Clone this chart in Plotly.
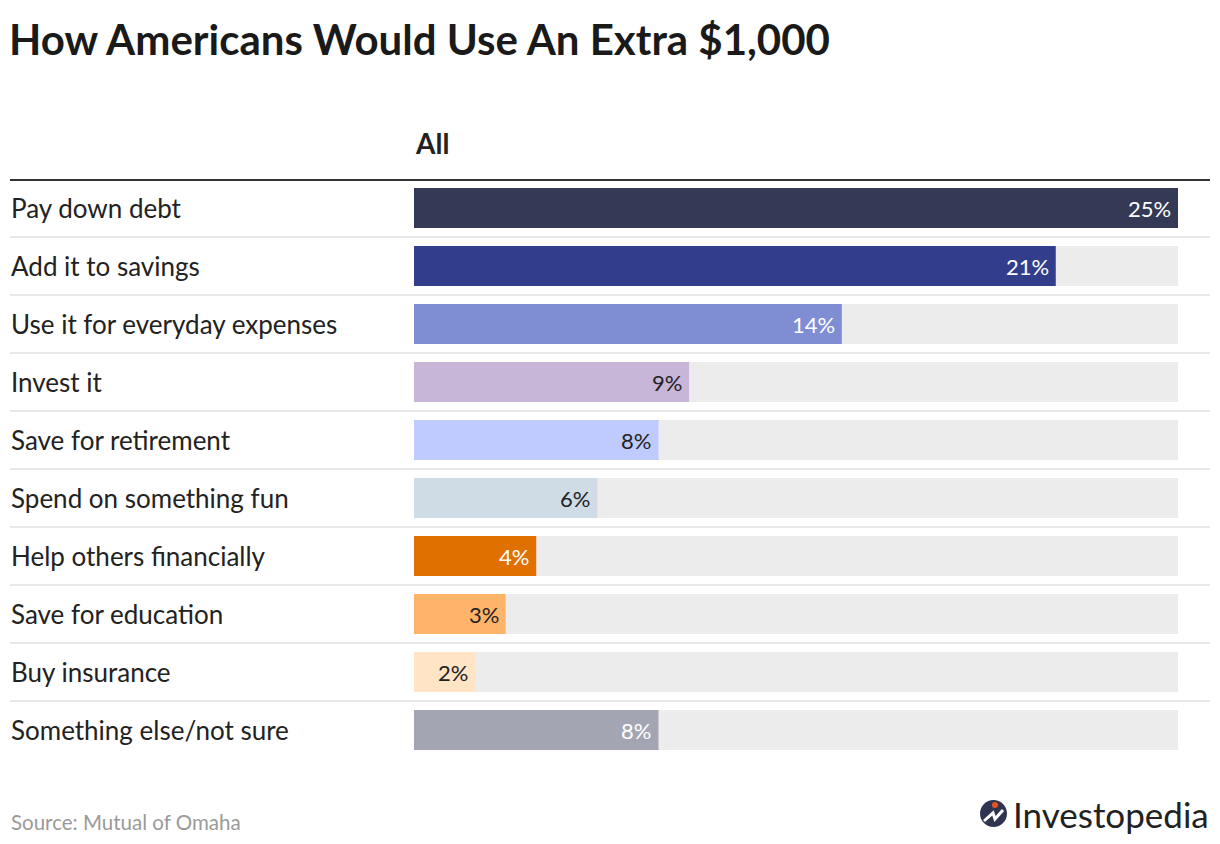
import plotly.graph_objects as go

# Data
categories = [
    "Pay down debt",
    "Add it to savings",
    "Use it for everyday expenses",
    "Invest it",
    "Save for retirement",
    "Spend on something fun",
    "Help others financially",
    "Save for education",
    "Buy insurance",
    "Something else/not sure",
]
values = [25, 21, 14, 9, 8, 6, 4, 3, 2, 8]
bar_colors = ["#343a56", "#323e8c", "#7f8dd2", "#c8b6d9", "#bfcaff",
              "#cfdbe5", "#e07000", "#ffb469", "#ffe4c6", "#a3a6b2"]
label_colors = ["#ffffff", "#ffffff", "#ffffff", "#222222", "#222222",
                "#222222", "#ffffff", "#222222", "#222222", "#ffffff"]

# page body has an 8px margin, so the figure is a bit smaller than the window
OFF = 8
W, H = 1220 - OFF, 844 - OFF
L, R, T, B = 414 - OFF, 42, 179 - OFF, 85
FONT = "Lato"


# screen pixel -> paper helpers for the decorations
def px2x(px):
    return (px - OFF - L) / (W - L - R)


def py2y(py):
    return (H - B - (py - OFF)) / (H - T - B)


track = [max(values)] * len(values)

fig = go.Figure()
fig.add_trace(go.Bar(
    y=categories, x=track, orientation="h", width=0.69,
    marker=dict(color="#ececec", line=dict(width=0)),
    hoverinfo="skip", showlegend=False,
))
fig.add_trace(go.Bar(
    y=categories, x=values, orientation="h", width=0.69,
    marker=dict(color=bar_colors, line=dict(width=0)),
    showlegend=False,
))

shapes = []
# thick header rule
shapes.append(dict(type="line", xref="paper", yref="y",
                   x0=px2x(10), x1=px2x(1210), y0=-0.5, y1=-0.5,
                   line=dict(color="#333333", width=4)))
# light row separators
for i in range(len(categories) - 1):
    shapes.append(dict(type="line", xref="paper", yref="y",
                       x0=px2x(10), x1=px2x(1210), y0=i + 0.5, y1=i + 0.5,
                       line=dict(color="#e8e8e8", width=2), layer="below"))

# Investopedia logo mark
shapes.append(dict(type="circle", xref="paper", yref="paper",
                   x0=px2x(980), x1=px2x(1007), y0=py2y(827), y1=py2y(800),
                   fillcolor="#2f3550", line=dict(width=0)))
shapes.append(dict(type="path", xref="paper", yref="paper",
                   path=f"M {px2x(984)} {py2y(821)} L {px2x(993)} {py2y(813)} "
                        f"L {px2x(995)} {py2y(819)} L {px2x(1003)} {py2y(810)}",
                   line=dict(color="white", width=3)))
shapes.append(dict(type="circle", xref="paper", yref="paper",
                   x0=px2x(992), x1=px2x(998), y0=py2y(808), y1=py2y(802),
                   fillcolor="#e8541e", line=dict(width=0)))

annotations = []
for c in categories:
    annotations.append(dict(x=px2x(9), y=c, xref="paper", yref="y",
                            text=c, showarrow=False, xanchor="left",
                            yanchor="middle",
                            font=dict(family=FONT, size=26, color="#222222")))
# value labels at the end of each bar
for c, v, col in zip(categories, values, label_colors):
    annotations.append(dict(x=v, y=c, xref="x", yref="y", text=f"{v}%",
                            showarrow=False, xanchor="right", xshift=-5,
                            yanchor="middle",
                            font=dict(family=FONT, size=22, color=col)))
annotations.append(dict(x=px2x(413), y=py2y(143), xref="paper", yref="paper",
                        text="<b>All</b>", showarrow=False, xanchor="left",
                        yanchor="middle",
                        font=dict(family=FONT, size=28, color="#222222")))
annotations.append(dict(x=px2x(9), y=py2y(822), xref="paper", yref="paper",
                        text="Source: Mutual of Omaha", showarrow=False,
                        xanchor="left", yanchor="middle",
                        font=dict(family=FONT, size=20.5, color="#9a9a9a")))
annotations.append(dict(x=px2x(1211), y=py2y(814), xref="paper", yref="paper",
                        text="Investopedia", showarrow=False,
                        xanchor="right", yanchor="middle",
                        font=dict(family=FONT, size=35, color="#222222")))

fig.update_layout(
    width=W, height=H,
    margin=dict(l=L, r=R, t=T, b=B),
    paper_bgcolor="white", plot_bgcolor="white",
    barmode="overlay",
    title=dict(text="<b>How Americans Would Use An Extra $1,000</b>",
               x=(9 - OFF) / W, xref="container", xanchor="left",
               y=1 - (40 - OFF) / H, yref="container", yanchor="middle",
               font=dict(family=FONT, size=42, color="#1a1a1a")),
    xaxis=dict(range=[0, max(values)], visible=False, fixedrange=True),
    yaxis=dict(range=[len(categories) - 0.5, -0.5], visible=False,
               categoryorder="array", categoryarray=categories),
    shapes=shapes,
    annotations=annotations,
)

fig.write_html("out.html")
